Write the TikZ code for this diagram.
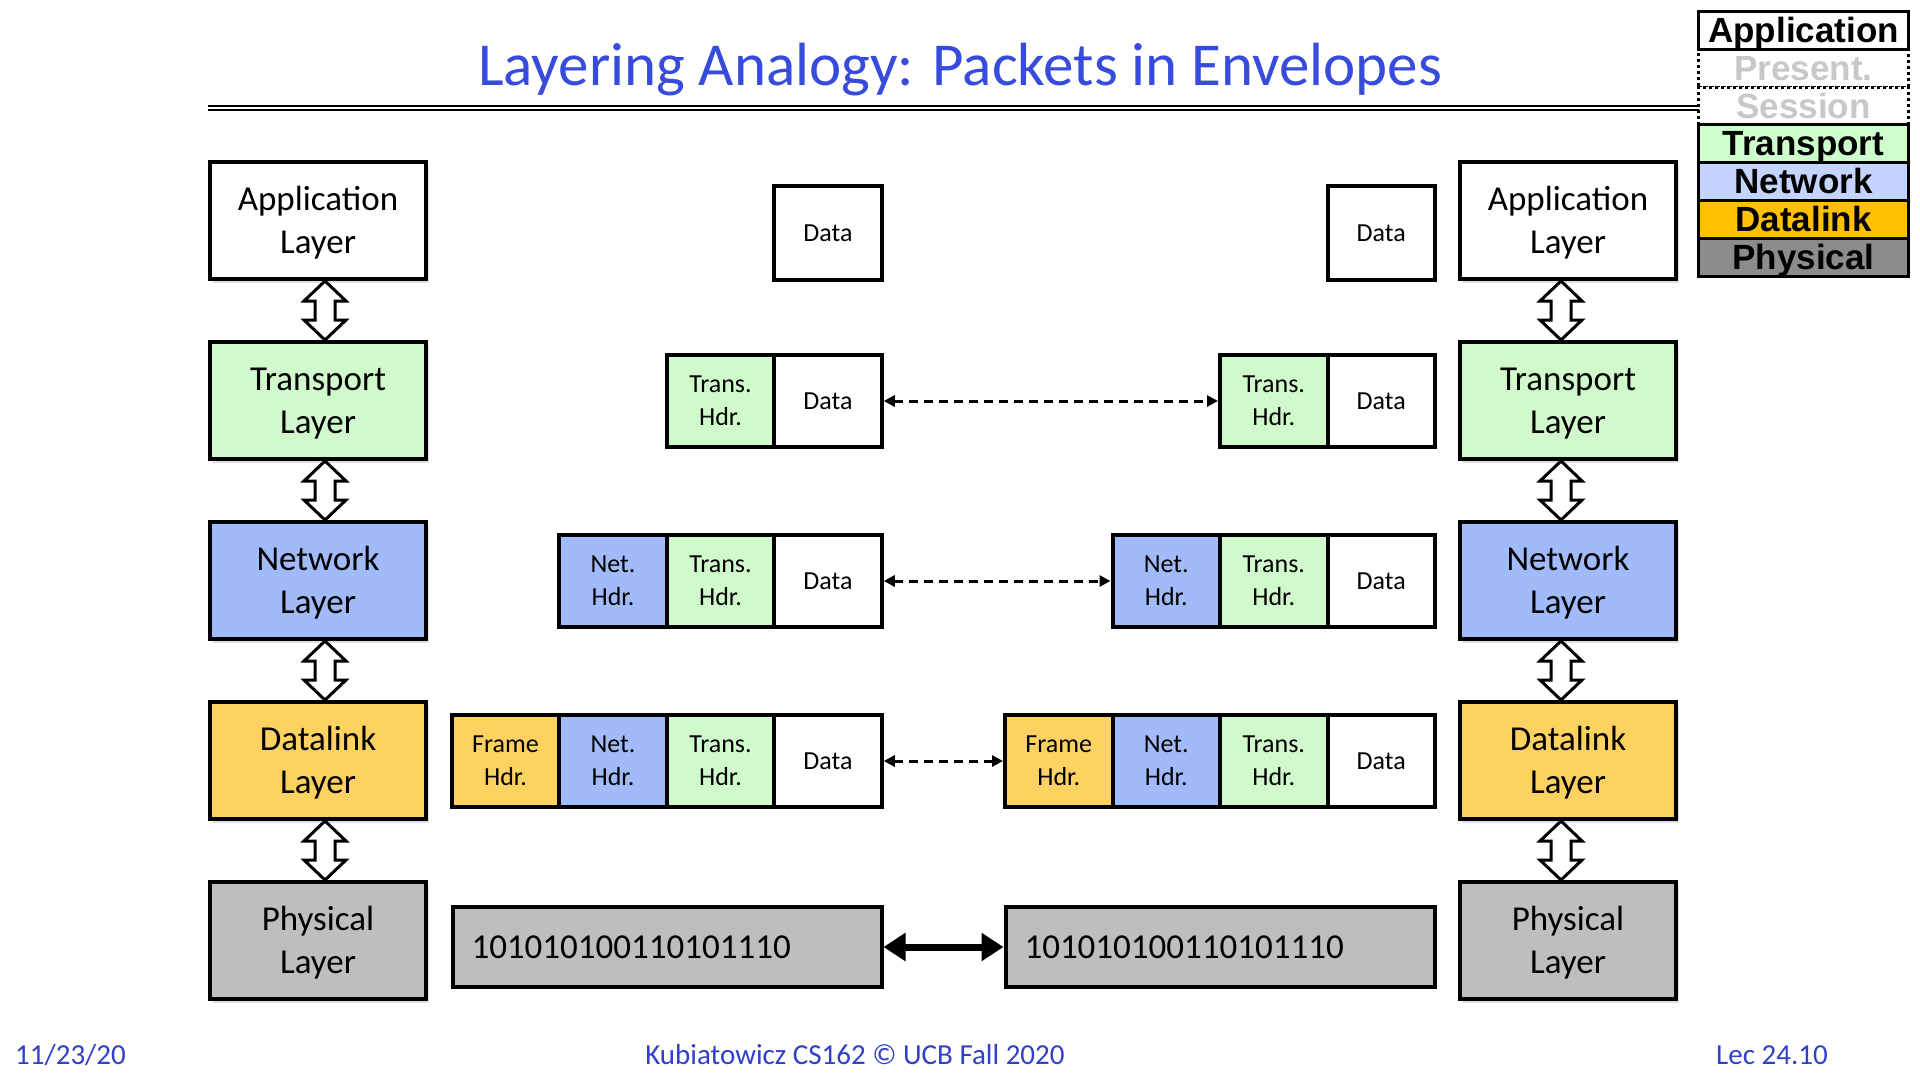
\documentclass[tikz,border=0pt]{standalone}
\usepackage{fontspec}
\setmainfont{Carlito}
\newfontfamily\legfont{Liberation Sans}
\usetikzlibrary{arrows.meta,shadows,calc}
\definecolor{trC}{RGB}{208,250,204}
\definecolor{netC}{RGB}{160,186,250}
\definecolor{dlC}{RGB}{253,210,96}
\definecolor{phC}{RGB}{190,190,190}
\definecolor{ltr}{RGB}{204,255,204}
\definecolor{lnet}{RGB}{197,212,255}
\definecolor{ldl}{RGB}{255,192,0}
\definecolor{lph}{RGB}{140,140,140}
\definecolor{lgray}{RGB}{200,200,200}
\definecolor{ttl}{RGB}{55,75,220}
\definecolor{foot}{RGB}{48,64,200}
\newcommand\updown[3]{%
  \draw[harrow] let \p1=(#1.south), \p2=(#2.north) in
   (\x1+#3pt,\y1) -- (\x1+#3pt+21pt,\y1-20pt) -- (\x1+#3pt+10pt,\y1-20pt) --
   (\x1+#3pt+10pt,\y2+20pt) -- (\x1+#3pt+21pt,\y2+20pt) -- (\x1+#3pt,\y2) --
   (\x1+#3pt-21pt,\y2+20pt) -- (\x1+#3pt-10pt,\y2+20pt) --
   (\x1+#3pt-10pt,\y1-20pt) -- (\x1+#3pt-21pt,\y1-20pt) -- cycle;}
\begin{document}
\begin{tikzpicture}[x=1pt,y=-1pt,
  layerbox/.style={draw, line width=4pt, minimum width=216pt, minimum height=117pt,
    align=center, font=\fontsize{35}{43}\selectfont, inner sep=0pt,
    text height=70pt, text depth=4pt,
    drop shadow={shadow xshift=3pt, shadow yshift=-4pt, opacity=0.25}},
  cell/.style={draw, line width=4pt, minimum width=107.5pt, minimum height=92pt,
    align=center, font=\fontsize{26}{33}\selectfont, inner sep=0pt},
  bits/.style={draw, line width=4pt, fill=phC, minimum height=80pt, text width=391pt,
    inner xsep=19pt, inner ysep=0pt, align=left, font=\fontsize{35}{40}\selectfont},
  legbox/.style={draw, line width=3pt, minimum width=210pt, inner sep=0pt,
    font=\legfont\bfseries\fontsize{35}{36}\selectfont, text height=25pt, text depth=0pt},
  legdash/.style={legbox, dash pattern=on 3pt off 3pt, text=lgray},
  harrow/.style={draw=black, fill=white, line width=3pt, line join=miter},
  dasharrow/.style={line width=3pt, dash pattern=on 9pt off 6pt,
    {Triangle[length=11pt,width=11pt]}-{Triangle[length=11pt,width=11pt]}},
  thickarrow/.style={line width=7pt,
    {Triangle[length=22pt,width=27pt]}-{Triangle[length=22pt,width=27pt]}},
  foottext/.style={font=\fontsize{29}{30}\selectfont, text=foot, inner sep=0pt}
]
\fill[white] (0,0) rectangle (1920,1080);
\useasboundingbox (0,0) rectangle (1920,1080);

% title
\node[font=\fontsize{61}{61}\selectfont, text=ttl, anchor=base, inner sep=0pt] (title) at (960,85) {Layering Analogy: Packets in Envelopes};
\draw[line width=2.2pt] (208,106) -- (1699,106);
\draw[line width=2.2pt] (208,110) -- (1699,110);

% left layer stack
\node[layerbox, fill=white] (appL) at (318,220.5) {Application\\Layer};
\node[layerbox, fill=trC]   (trL)  at (318,400.5) {Transport\\Layer};
\node[layerbox, fill=netC]  (netL) at (318,580.5) {Network\\Layer};
\node[layerbox, fill=dlC]   (dlL)  at (318,760.5) {Datalink\\Layer};
\node[layerbox, fill=phC]   (phL)  at (318,940.5) {Physical\\Layer};
% right layer stack
\node[layerbox, fill=white] (appR) at (1568,220.5) {Application\\Layer};
\node[layerbox, fill=trC]   (trR)  at (1568,400.5) {Transport\\Layer};
\node[layerbox, fill=netC]  (netR) at (1568,580.5) {Network\\Layer};
\node[layerbox, fill=dlC]   (dlR)  at (1568,760.5) {Datalink\\Layer};
\node[layerbox, fill=phC]   (phR)  at (1568,940.5) {Physical\\Layer};

\updown{appL}{trL}{7}
\updown{trL}{netL}{7}
\updown{netL}{dlL}{7}
\updown{dlL}{phL}{7}
\updown{appR}{trR}{-7}
\updown{trR}{netR}{-7}
\updown{netR}{dlR}{-7}
\updown{dlR}{phR}{-7}

% left packets
\node[cell, fill=white, minimum height=94pt] (d1L) at (828,233) {Data};
\node[cell, fill=trC]   (t2L) at (720.5,401) {Trans.\\Hdr.};
\node[cell, fill=white] (d2L) at (828,401) {Data};
\node[cell, fill=netC]  (n3L) at (613,581) {Net.\\Hdr.};
\node[cell, fill=trC]   (t3L) at (720.5,581) {Trans.\\Hdr.};
\node[cell, fill=white] (d3L) at (828,581) {Data};
\node[cell, fill=dlC]   (f4L) at (505.5,761) {Frame\\Hdr.};
\node[cell, fill=netC]  (n4L) at (613,761) {Net.\\Hdr.};
\node[cell, fill=trC]   (t4L) at (720.5,761) {Trans.\\Hdr.};
\node[cell, fill=white] (d4L) at (828,761) {Data};
\node[bits] (bL) at (667,947) {101010100110101110};

% right packets
\node[cell, fill=white, minimum height=94pt] (d1R) at (1381.25,233) {Data};
\node[cell, fill=trC]   (t2R) at (1273.75,401) {Trans.\\Hdr.};
\node[cell, fill=white] (d2R) at (1381.25,401) {Data};
\node[cell, fill=netC]  (n3R) at (1166.25,581) {Net.\\Hdr.};
\node[cell, fill=trC]   (t3R) at (1273.75,581) {Trans.\\Hdr.};
\node[cell, fill=white] (d3R) at (1381.25,581) {Data};
\node[cell, fill=dlC]   (f4R) at (1058.75,761) {Frame\\Hdr.};
\node[cell, fill=netC]  (n4R) at (1166.25,761) {Net.\\Hdr.};
\node[cell, fill=trC]   (t4R) at (1273.75,761) {Trans.\\Hdr.};
\node[cell, fill=white] (d4R) at (1381.25,761) {Data};
\node[bits] (bR) at (1220,947) {101010100110101110};

% peer arrows
\draw[dasharrow] (d2L.east) -- (t2R.west);
\draw[dasharrow] (d3L.east) -- (n3R.west);
\draw[dasharrow] (d4L.east) -- (f4R.west);
\draw[thickarrow] (bL.east) -- (bR.west);

% legend
\node[legdash, fill=white, minimum height=38pt]   (lgP) at (1803.5,68) {Present.};
\node[legdash, fill=white, minimum height=37.5pt] (lgS) at (1803.5,105.75) {Session};
\node[legbox, fill=white, minimum height=38pt]    (lgA) at (1803.5,30) {Application};
\node[legbox, fill=ltr, minimum height=37.5pt]    (lgT) at (1803.5,143.25) {Transport};
\node[legbox, fill=lnet, minimum height=38pt]     (lgN) at (1803.5,181) {Network};
\node[legbox, fill=ldl, minimum height=38pt]      (lgD) at (1803.5,219) {Datalink};
\node[legbox, fill=lph, minimum height=38pt]      (lgY) at (1803.5,257) {Physical};

% footer
\node[foottext, anchor=base west] (date) at (15,1064) {11/23/20};
\node[foottext, anchor=base] (course) at (855,1064) {Kubiatowicz CS162 © UCB Fall 2020};
\node[foottext, anchor=base] (lec) at (1772,1064) {Lec 24.10};
\end{tikzpicture}
\end{document}
